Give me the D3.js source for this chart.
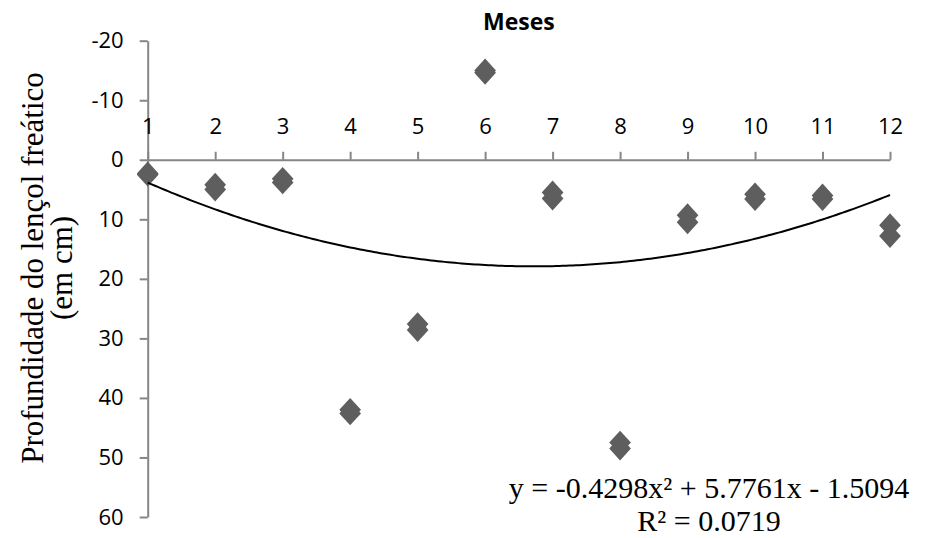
<!DOCTYPE html>
<html>
<head>
<meta charset="utf-8">
<script src="https://cdn.jsdelivr.net/npm/d3@7"></script>
<style>
  body { margin: 0; background: #fff; }
  svg { display: block; }
</style>
</head>
<body>
<div id="chart"></div>
<script>
// months and the two readings per month (depth in cm)
var months = [1, 2, 3, 4, 5, 6, 7, 8, 9, 10, 11, 12];
var reading1 = [2.3, 4.2, 3.2, 42.0, 27.6, -15.0, 5.5, 47.5, 9.3, 5.8, 6.0, 11.0];
var reading2 = [2.5, 5.0, 3.8, 42.6, 28.6, -14.6, 6.5, 48.5, 10.5, 6.6, 6.6, 12.8];
var yTicks = [-20, -10, 0, 10, 20, 30, 40, 50, 60];
// trend line coefficients from the chart label: a*x^2 + b*x + c
var trendCoef = [-0.4298, 5.7761, -1.5094];
var eqText = "y = -0.4298x² + 5.7761x - 1.5094";
var r2Text = "R² = 0.0719";

var W = 926, H = 538;
var svg = d3.select("#chart").append("svg").attr("width", W).attr("height", H);

var x = d3.scaleLinear().domain([1, 12]).range([147.7, 890]);
var y = d3.scaleLinear().domain([-20, 60]).range([40.7, 517]);

var axisColor = "#868686";
var tickFont = "'Open Sans', sans-serif";

// y axis
var gy = svg.append("g").attr("transform", "translate(" + x(1) + ",0)")
  .call(d3.axisLeft(y).tickValues(yTicks).tickFormat(d => String(d)).tickSize(8).tickSizeOuter(0).tickPadding(16));
// x axis sits on the zero line, labels above
var gx = svg.append("g").attr("transform", "translate(0," + y(0) + ")")
  .call(d3.axisTop(x).tickValues(months).tickFormat(d => String(d)).tickSize(8).tickSizeOuter(0).tickPadding(18));

[gx, gy].forEach(g => {
  g.select(".domain").attr("stroke", axisColor).attr("stroke-width", 2);
  g.selectAll(".tick line").attr("stroke", axisColor).attr("stroke-width", 2);
  g.selectAll(".tick text").attr("fill", "#000").style("font-family", tickFont).style("font-size", "22px");
});

// points
var pts = [];
months.forEach((m, i) => {
  pts.push({ m: m, v: reading2[i] });
  pts.push({ m: m, v: reading1[i] });
});
var sym = d3.symbol().type(d3.symbolDiamond2).size(300);
svg.append("g").selectAll("path").data(pts).join("path")
  .attr("d", sym)
  .attr("transform", d => "translate(" + x(d.m) + "," + y(d.v) + ") scale(1,1.1)")
  .attr("fill", "#5e5e5e");

// trend line
var xs = d3.range(1, 12.001, 0.05);
var line = d3.line().x(d => x(d)).y(d => y(trendCoef[0] * d * d + trendCoef[1] * d + trendCoef[2]));
svg.append("path").datum(xs).attr("d", line)
  .attr("fill", "none").attr("stroke", "#000").attr("stroke-width", 2);

// title
svg.append("text").attr("x", (x(1) + x(12)) / 2).attr("y", 30)
  .attr("text-anchor", "middle").style("font-family", tickFont)
  .style("font-weight", "bold").style("font-size", "23px").text("Meses");

// y label
var serif = "'Liberation Serif', 'Times New Roman', serif";
var yl = svg.append("text").attr("transform", "translate(0,268) rotate(-90)")
  .attr("text-anchor", "middle").style("font-family", serif).style("font-size", "31px");
yl.append("tspan").attr("x", 0).attr("y", 43).text("Profundidade do lençol freático");
yl.append("tspan").attr("x", 0).attr("y", 72).text("(em cm)");

// equation
svg.append("text").attr("x", 709).attr("y", 498).attr("text-anchor", "middle")
  .style("font-family", serif).style("font-size", "30px").text(eqText);
svg.append("text").attr("x", 709).attr("y", 531).attr("text-anchor", "middle")
  .style("font-family", serif).style("font-size", "30px").text(r2Text);
</script>
</body>
</html>
